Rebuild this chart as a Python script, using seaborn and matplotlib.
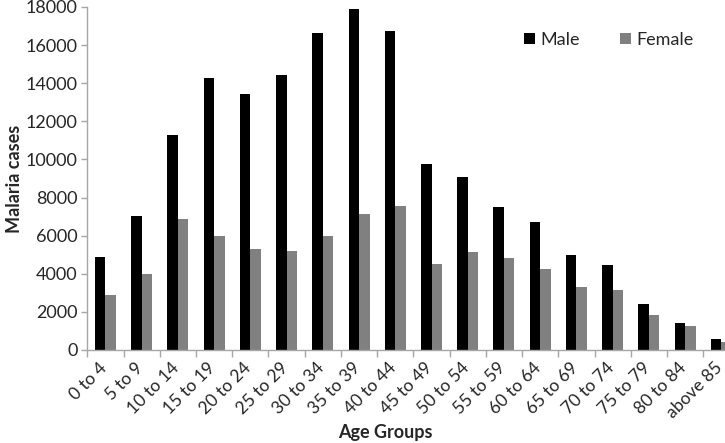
import numpy as np
import pandas as pd
import seaborn as sns
import matplotlib.pyplot as plt
import matplotlib.transforms as mtransforms

# Malaria cases by age group and sex
age_groups = ["0 to 4", "5 to 9", "10 to 14", "15 to 19", "20 to 24", "25 to 29",
              "30 to 34", "35 to 39", "40 to 44", "45 to 49", "50 to 54", "55 to 59",
              "60 to 64", "65 to 69", "70 to 74", "75 to 79", "80 to 84", "above 85"]
male = [4860, 7010, 11260, 14290, 13410, 14430, 16630, 17880, 16740, 9740,
        9080, 7500, 6700, 4970, 4440, 2400, 1430, 560]
female = [2870, 4000, 6870, 5960, 5300, 5210, 5960, 7150, 7540, 4500,
          5140, 4830, 4250, 3290, 3150, 1850, 1240, 440]
y_ticks = [0, 2000, 4000, 6000, 8000, 10000, 12000, 14000, 16000, 18000]

df = pd.DataFrame({
    "age": age_groups * 2,
    "cases": male + female,
    "sex": ["Male"] * len(male) + ["Female"] * len(female),
})

sns.set_style("white")
plt.rcParams['font.family'] = ['Lato', 'DejaVu Sans']

fig = plt.figure(figsize=(7.25, 4.43), dpi=100)
ax = fig.add_axes([0.1204, 0.21, 0.8996, 0.7742])

sns.barplot(data=df, x="age", y="cases", hue="sex", order=age_groups,
            palette={"Male": "#000000", "Female": "#808080"},
            width=0.58, saturation=1, edgecolor="none", ax=ax)

ax.set_xlim(-0.5, len(age_groups) - 0.5)
ax.set_ylim(0, 18000)
ax.set_yticks(y_ticks)
ax.set_yticklabels([str(v) for v in y_ticks], fontsize=13)

# Excel-style ticks between categories
ax.set_xticks(np.arange(len(age_groups)))
ax.set_xticklabels(age_groups, rotation=45, ha="right", rotation_mode="anchor", fontsize=12.5)
ax.set_xticks(np.arange(len(age_groups)) - 0.5, minor=True)
ax.tick_params(axis="x", which="major", length=0, pad=7)
ax.tick_params(axis="x", which="minor", length=5, color="#a6a6a6", width=1)
ax.tick_params(axis="y", length=4, color="#a6a6a6", width=1, pad=3)
ax.xaxis.set_ticks_position("bottom")
ax.yaxis.set_ticks_position("left")
shift = mtransforms.ScaledTranslation(-7 / 100, 0, fig.dpi_scale_trans)
for lbl in ax.get_xticklabels():
    lbl.set_transform(lbl.get_transform() + shift)

for side in ["top", "right"]:
    ax.spines[side].set_visible(False)
for side in ["left", "bottom"]:
    ax.spines[side].set_color("#a6a6a6")
    ax.spines[side].set_linewidth(1)

ax.set_xlabel("Age Groups", fontsize=13, fontweight="bold")
ax.xaxis.set_label_coords(0.457, -0.215)
ax.set_ylabel("Malaria cases", fontsize=13, fontweight="bold")
ax.yaxis.set_label_coords(-0.098, 0.5)

ax.legend(loc="upper left", bbox_to_anchor=(0.645, 0.975), ncol=2, frameon=False,
          fontsize=13, handlelength=0.6, handleheight=0.6, handletextpad=0.3,
          columnspacing=2.2, title=None)

fig.savefig("out.png", dpi=100)
